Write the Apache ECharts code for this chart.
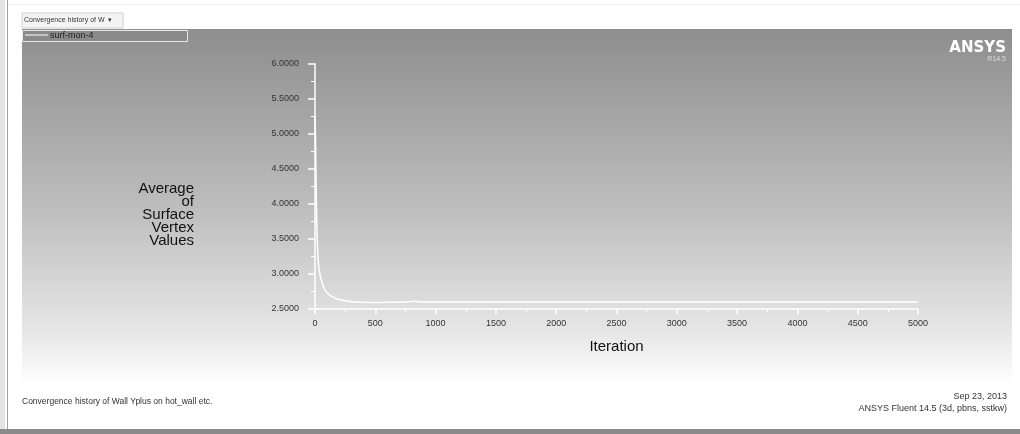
<!DOCTYPE html>
<html><head><meta charset="utf-8">
<script src="https://cdn.jsdelivr.net/npm/echarts@6/dist/echarts.min.js"></script>
<style>html,body{margin:0;padding:0;background:#fff}#c{width:1020px;height:434px}</style>
</head><body><div id="c"></div>
<script>
const iterations = [1, 4, 8, 12, 16, 20, 25, 30, 40, 55, 75, 100, 150, 200, 300, 400, 500, 600, 700, 780, 820, 860, 950, 1000, 1500, 2000, 2500, 3000, 3500, 4000, 4500, 5000];
const values     = [5.25, 4.95, 4.45, 4.0, 3.65, 3.42, 3.25, 3.12, 3.0, 2.9, 2.8, 2.73, 2.67, 2.635, 2.605, 2.595, 2.592, 2.595, 2.598, 2.605, 2.612, 2.603, 2.6, 2.6, 2.6, 2.6, 2.6, 2.6, 2.6, 2.6, 2.6, 2.6];
const yTicks = [2.5, 3.0, 3.5, 4.0, 4.5, 5.0, 5.5, 6.0];
const xTicks = [0, 500, 1000, 1500, 2000, 2500, 3000, 3500, 4000, 4500, 5000];
const seriesName = 'surf-mon-4';

const chart = echarts.init(document.getElementById('c'), null, {renderer: 'canvas'});
const font = '"Liberation Sans", Arial, sans-serif';
chart.setOption({
  animation: false,
  backgroundColor: '#ffffff',
  graphic: [
    {type: 'rect', z: -10, shape: {x: 22, y: 29, width: 990, height: 355},
      style: {fill: new echarts.graphic.LinearGradient(0, 0, 0, 1, [
        {offset: 0, color: '#8e8e8e'}, {offset: 0.5, color: '#bdbdbd'},
        {offset: 0.85, color: '#e6e6e6'}, {offset: 1, color: '#ffffff'}])}},
    {type: 'rect', z: -9, shape: {x: 0, y: 0, width: 5, height: 434}, style: {fill: '#e4e4e4'}},
    {type: 'line', z: -9, shape: {x1: 7.5, y1: 0, x2: 7.5, y2: 434}, style: {stroke: '#a0a0a0', lineWidth: 1}},
    {type: 'rect', z: -9, shape: {x: 0, y: 429, width: 1020, height: 5}, style: {fill: '#8a8a8a'}},
    {type: 'rect', z: -9, shape: {x: 8, y: 4, width: 1012, height: 1}, style: {fill: '#eeeeee'}},
    // title tab
    {type: 'rect', z: 5, shape: {x: 22, y: 13, width: 101, height: 15}, style: {fill: '#f4f4f4', stroke: '#d0d0d0', lineWidth: 1}},
    {type: 'text', z: 6, style: {x: 24, y: 20.5, text: 'Convergence history of W  ▾', font: '7px ' + font, fill: '#333', verticalAlign: 'middle'}},
    // legend box
    {type: 'rect', z: 5, shape: {x: 22.5, y: 30.5, width: 165, height: 11}, style: {fill: '#8a8a8a', stroke: '#e8e8e8', lineWidth: 1}},
    {type: 'line', z: 6, shape: {x1: 25, y1: 35, x2: 48, y2: 35}, style: {stroke: '#ffffff', lineWidth: 1}},
    {type: 'text', z: 6, style: {x: 50, y: 35.5, text: seriesName, font: '9px ' + font, fill: '#222', verticalAlign: 'middle'}},
    // logo
    {type: 'text', z: 6, style: {x: 1006, y: 48, text: 'ANSYS', font: 'bold 15px "DejaVu Sans", sans-serif', fill: '#ffffff', align: 'right', verticalAlign: 'middle'}},
    {type: 'text', z: 6, style: {x: 1006, y: 59, text: 'R14.5', font: '7px ' + font, fill: '#dddddd', align: 'right', verticalAlign: 'middle'}},
    // y axis title
    {type: 'text', z: 6, style: {x: 194, y: 215, text: 'Average\nof\nSurface\nVertex\nValues', font: '15px ' + font, lineHeight: 13, fill: '#111', align: 'right', verticalAlign: 'middle'}},
    // footer
    {type: 'text', z: 6, style: {x: 22, y: 402, text: 'Convergence history of Wall Yplus on hot_wall etc.', font: '8.5px ' + font, fill: '#333', verticalAlign: 'middle'}},
    {type: 'text', z: 6, style: {x: 1007, y: 397, text: 'Sep 23, 2013', font: '9px ' + font, fill: '#333', align: 'right', verticalAlign: 'middle'}},
    {type: 'text', z: 6, style: {x: 1007, y: 409, text: 'ANSYS Fluent 14.5 (3d, pbns, sstkw)', font: '9px ' + font, fill: '#333', align: 'right', verticalAlign: 'middle'}}
  ],
  grid: {left: 315, right: 102, top: 64, bottom: 125, containLabel: false},
  xAxis: {
    type: 'value', min: xTicks[0], max: xTicks[xTicks.length - 1], interval: 500,
    name: 'Iteration', nameLocation: 'middle', nameGap: 30,
    nameTextStyle: {fontSize: 15, color: '#111', fontFamily: font},
    axisLine: {lineStyle: {color: '#ffffff', width: 1.5}},
    axisTick: {show: true, length: 5, lineStyle: {color: '#ffffff', width: 1.5}},
    minorTick: {show: true, splitNumber: 2, length: 3, lineStyle: {color: '#ffffff', width: 1}},
    axisLabel: {fontSize: 9, color: '#333', fontFamily: font, margin: 10, formatter: v => String(v)},
    splitLine: {show: false}
  },
  yAxis: {
    type: 'value', min: yTicks[0], max: yTicks[yTicks.length - 1], interval: 0.5,
    axisLine: {show: true, lineStyle: {color: '#ffffff', width: 1.5}},
    axisTick: {show: true, length: 7, lineStyle: {color: '#ffffff', width: 1.5}},
    minorTick: {show: true, splitNumber: 2, length: 4, lineStyle: {color: '#ffffff', width: 1}},
    axisLabel: {fontSize: 9, color: '#333', fontFamily: font, margin: 16, formatter: v => v.toFixed(4)},
    splitLine: {show: false}
  },
  series: [{
    name: seriesName, type: 'line', showSymbol: false, smooth: 0.3,
    data: iterations.map((x, i) => [x, values[i]]),
    lineStyle: {color: '#ffffff', width: 1.5}
  }]
});
</script></body></html>
